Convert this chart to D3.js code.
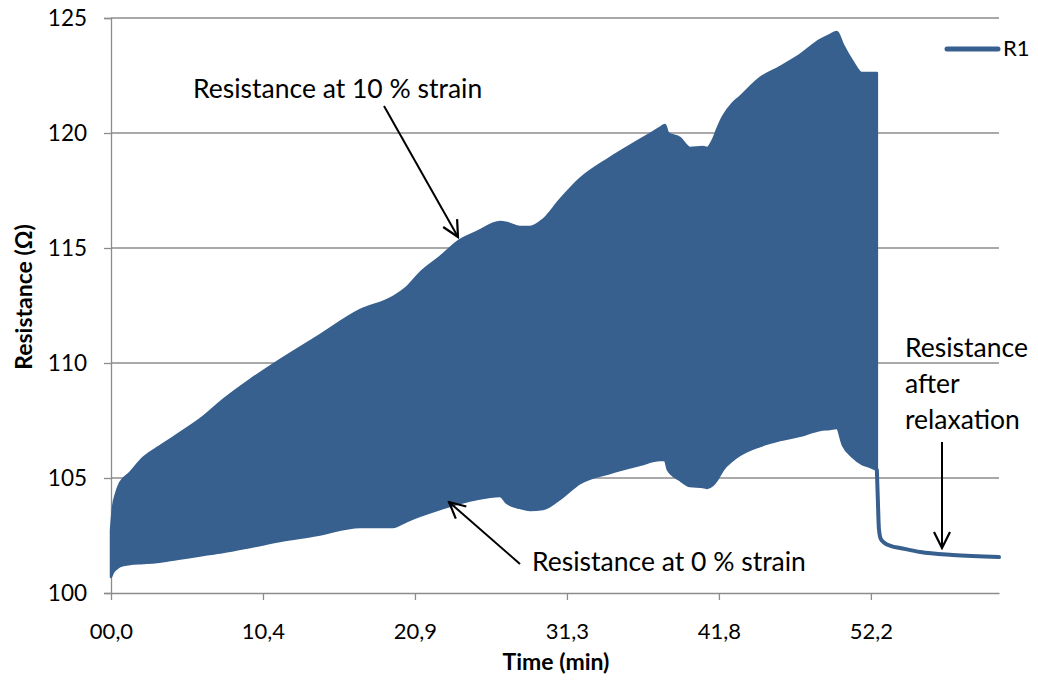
<!DOCTYPE html>
<html>
<head>
<meta charset="utf-8">
<script src="https://cdn.jsdelivr.net/npm/d3@7"></script>
<style>
  html, body { margin: 0; padding: 0; background: #ffffff; }
  svg { display: block; font-family: Lato, "Open Sans", sans-serif; }
</style>
</head>
<body>
<svg id="chart" width="1038" height="681"></svg>
<script>
// Time axis (minutes) and the envelope of the cycled resistance signal R1
const timeMin = [0.00, 0.14, 0.34, 0.62, 1.30, 2.20, 3.16, 4.53, 6.32, 7.69, 9.55, 11.61, 14.15,
  17.10, 19.37, 20.33, 21.22, 22.60, 23.97, 25.14, 26.72, 27.20, 28.09, 28.78, 29.67, 30.84,
  32.21, 34.27, 36.33, 37.71, 38.05, 38.26, 39.08, 39.77, 40.66, 40.94, 41.35, 41.62, 42.03,
  42.72, 43.20, 44.58, 45.95, 47.32, 48.70, 49.38, 49.86, 50.28, 50.96, 51.58, 52.13, 52.61];

// Resistance at 10 % strain (upper envelope, ohm)
const r1Strained = [102.74, 103.74, 104.30, 104.78, 105.22, 105.87, 106.30, 106.87, 107.65, 108.39,
  109.26, 110.13, 111.13, 112.30, 112.87, 113.30, 113.91, 114.61, 115.35, 115.70, 116.13, 116.09,
  115.91, 115.91, 116.22, 117.09, 118.00, 118.91, 119.70, 120.22, 120.35, 120.00, 119.78, 119.35,
  119.39, 119.35, 119.70, 120.13, 120.70, 121.30, 121.57, 122.39, 122.87, 123.39, 124.04, 124.26,
  124.39, 123.83, 123.09, 122.61, 122.61, 122.61];

// Resistance at 0 % strain (lower envelope, ohm)
const r1Relaxed = [100.70, 100.91, 101.04, 101.17, 101.26, 101.30, 101.35, 101.48, 101.65, 101.78,
  102.00, 102.26, 102.52, 102.87, 102.87, 103.13, 103.35, 103.65, 103.91, 104.09, 104.22, 103.91,
  103.70, 103.61, 103.65, 104.09, 104.78, 105.22, 105.57, 105.78, 105.78, 105.35, 104.91, 104.65,
  104.61, 104.57, 104.70, 104.91, 105.35, 105.78, 106.00, 106.39, 106.65, 106.83, 107.09, 107.13,
  107.17, 106.43, 105.91, 105.61, 105.48, 105.35];

// Recovery after the cycling stops
const tailTime = [52.61, 52.68, 52.75, 52.88, 53.15, 53.60, 54.20, 55.60, 57.80, 61.00];
const tailR1   = [105.35, 104.00, 102.80, 102.35, 102.17, 102.04, 101.96, 101.78, 101.65, 101.56];

const xTickValues = [0, 10.44, 20.88, 31.32, 41.76, 52.2];
const yTickValues = [100, 105, 110, 115, 120, 125];

const seriesName = "R1";
const colour = "#37608f";
const gridColour = "#8c8c8c";

const svg = d3.select("#chart");
const plot = { left: 111, right: 999, top: 18, bottom: 593 };

const x = d3.scaleLinear().domain([0, 61.0]).range([plot.left, plot.right]);
const y = d3.scaleLinear().domain([100, 125]).range([plot.bottom, plot.top]);

const commaLocale = d3.formatLocale({ decimal: ",", thousands: ".", grouping: [3], currency: ["", ""] });
const fmtTime = commaLocale.format("04.1f");

// horizontal gridlines
svg.append("g")
  .selectAll("line")
  .data(yTickValues.filter(v => v !== 100))
  .join("line")
  .attr("x1", plot.left).attr("x2", plot.right)
  .attr("y1", d => y(d)).attr("y2", d => y(d))
  .attr("stroke", gridColour).attr("stroke-width", 1.3);

// y axis
const yAxis = svg.append("g")
  .attr("transform", `translate(${plot.left},0)`)
  .call(d3.axisLeft(y).tickValues(yTickValues).tickSize(7).tickPadding(17).tickFormat(d3.format("d")));
yAxis.select(".domain").attr("stroke", gridColour).attr("stroke-width", 1.3);
yAxis.selectAll(".tick line").attr("stroke", gridColour).attr("stroke-width", 1.3);
yAxis.selectAll(".tick text").attr("font-size", 22.5).attr("fill", "#000").attr("font-family", "Lato");

// x axis
const xAxis = svg.append("g")
  .attr("transform", `translate(0,${plot.bottom})`)
  .call(d3.axisBottom(x).tickValues(xTickValues).tickSize(7).tickSizeOuter(0).tickPadding(23).tickFormat(fmtTime));
xAxis.select(".domain").attr("stroke", gridColour).attr("stroke-width", 1.3);
xAxis.selectAll(".tick line").attr("stroke", gridColour).attr("stroke-width", 1.3);
xAxis.selectAll(".tick text").attr("font-size", 22).attr("fill", "#000").attr("font-family", "Lato");

// axis titles
svg.append("text")
  .attr("transform", `translate(26,297) rotate(-90)`)
  .attr("text-anchor", "middle").attr("dominant-baseline", "middle")
  .attr("font-weight", "bold").attr("font-size", 23)
  .text("Resistance (Ω)");

svg.append("text")
  .attr("x", 556).attr("y", 664)
  .attr("text-anchor", "middle").attr("dominant-baseline", "middle")
  .attr("font-weight", "bold").attr("font-size", 23)
  .text("Time (min)");

// cycling band: area between 0 % and 10 % strain resistance
const band = timeMin.map((t, i) => ({ t, hi: r1Strained[i], lo: r1Relaxed[i] }));
const area = d3.area()
  .x(d => x(d.t))
  .y0(d => y(d.lo))
  .y1(d => y(d.hi))
  .curve(d3.curveMonotoneX);
svg.append("path")
  .datum(band)
  .attr("d", area)
  .attr("fill", colour)
  .attr("stroke", colour)
  .attr("stroke-width", 2.5)
  .attr("stroke-linejoin", "round");

// relaxation tail
const tail = tailTime.map((t, i) => ({ t, r: tailR1[i] }));
svg.append("path")
  .datum(tail)
  .attr("d", d3.line().x(d => x(d.t)).y(d => y(d.r)).curve(d3.curveMonotoneX))
  .attr("fill", "none")
  .attr("stroke", colour)
  .attr("stroke-width", 4)
  .attr("stroke-linecap", "round")
  .attr("stroke-linejoin", "round");

// annotations
const defs = svg.append("defs");
defs.append("marker")
  .attr("id", "head")
  .attr("viewBox", "0 0 20 20")
  .attr("refX", 18).attr("refY", 10)
  .attr("markerWidth", 20).attr("markerHeight", 20)
  .attr("markerUnits", "userSpaceOnUse")
  .attr("orient", "auto")
  .append("path")
  .attr("d", "M2,2 L18,10 L2,18")
  .attr("fill", "none").attr("stroke", "#000").attr("stroke-width", 2.2);

function arrow(x1, y1, x2, y2) {
  svg.append("line")
    .attr("x1", x1).attr("y1", y1).attr("x2", x2).attr("y2", y2)
    .attr("stroke", "#000").attr("stroke-width", 2)
    .attr("marker-end", "url(#head)");
}

const noteSize = 26.5;
svg.append("text").attr("x", 193).attr("y", 91).attr("dominant-baseline", "middle")
  .attr("font-size", noteSize).text("Resistance at 10 % strain");
arrow(384, 106, 458, 237);

svg.append("text").attr("x", 532).attr("y", 564).attr("dominant-baseline", "middle")
  .attr("font-size", noteSize).text("Resistance at 0 % strain");
arrow(520, 564, 449, 502);

const relaxLines = ["Resistance", "after", "relaxation"];
svg.append("g").selectAll("text").data(relaxLines).join("text")
  .attr("x", 905).attr("y", (d, i) => 350 + i * 36)
  .attr("dominant-baseline", "middle")
  .attr("font-size", noteSize)
  .text(d => d);
arrow(942, 442, 942, 548);

// legend
const legend = svg.append("g").attr("transform", "translate(947,49)");
legend.append("line").attr("x1", 0).attr("x2", 51).attr("y1", 0).attr("y2", 0)
  .attr("stroke", colour).attr("stroke-width", 5).attr("stroke-linecap", "round");
legend.append("text").attr("x", 56).attr("y", 1).attr("dominant-baseline", "middle")
  .attr("font-size", 22).text(seriesName);
</script>
</body>
</html>
